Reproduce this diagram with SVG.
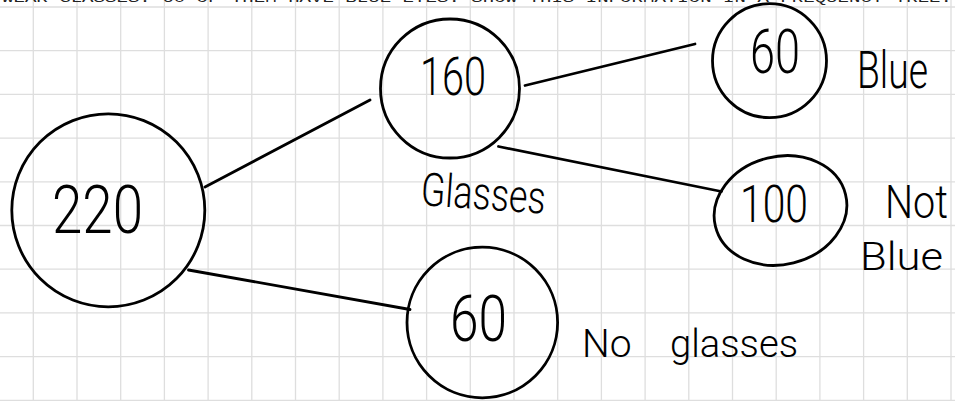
<svg xmlns="http://www.w3.org/2000/svg" width="955" height="401" viewBox="0 0 955 401">
  <style>
    .grid { stroke: #dedede; stroke-width: 1.3; fill: none; }
    .ring { fill: none; stroke: #000; stroke-width: 2.8; }
    .edge { stroke: #000; stroke-width: 2.8; stroke-linecap: round; fill: none; }
    .hand { font-family: "Roboto", "Open Sans", "Liberation Sans", sans-serif; font-weight: 300; fill: #000; }
    .head { font-family: "Liberation Mono", monospace; font-size: 13px; fill: #222; }
  </style>

  <rect width="955" height="401" fill="#fff"/>

  <!-- squared paper -->
  <path class="grid" d="M33.3 0V401 M77 0V401 M120.7 0V401 M164.4 0V401 M208.1 0V401 M251.8 0V401 M295.5 0V401 M339.2 0V401 M382.9 0V401 M426.6 0V401 M470.3 0V401 M514 0V401 M557.7 0V401 M601.4 0V401 M645.1 0V401 M688.8 0V401 M732.5 0V401 M776.2 0V401 M819.9 0V401 M863.6 0V401 M907.3 0V401 M951 0V401
    M0 7H955 M0 50.7H955 M0 94.4H955 M0 138.1H955 M0 181.8H955 M0 225.5H955 M0 269.2H955 M0 312.9H955 M0 356.6H955 M0 400.3H955"/>

  <!-- question line, cut off at the top edge -->
  <text class="head" x="2" y="1.8" textLength="950" lengthAdjust="spacingAndGlyphs">WEAR GLASSES. 60 OF THEM HAVE BLUE EYES. SHOW THIS INFORMATION IN A FREQUENCY TREE.</text>

  <!-- branches -->
  <g id="connectors">
    <line class="edge" x1="205" y1="187" x2="370" y2="100"/>
    <line class="edge" x1="188.5" y1="270" x2="410" y2="309.5"/>
    <line class="edge" x1="525" y1="85.5" x2="695" y2="44"/>
    <line class="edge" x1="498.5" y1="146.5" x2="721.5" y2="191.5"/>
  </g>

  <g id="n220">
    <circle class="ring" cx="108.3" cy="210.3" r="96.5"/>
    <text class="hand" x="52" y="233" font-size="66" textLength="91" lengthAdjust="spacingAndGlyphs">220</text>
  </g>

  <g id="n160">
    <circle class="ring" cx="450" cy="88.5" r="69.5"/>
    <text class="hand" x="420" y="95" font-size="53" textLength="66" lengthAdjust="spacingAndGlyphs">160</text>
    <text class="hand" x="420" y="205" font-size="46" textLength="125" lengthAdjust="spacingAndGlyphs" transform="rotate(4 420 205)">Glasses</text>
  </g>

  <g id="n60blue">
    <circle class="ring" cx="769.5" cy="60.7" r="57"/>
    <text class="hand" x="750" y="73" font-size="62" textLength="50" lengthAdjust="spacingAndGlyphs">60</text>
    <text class="hand" x="857" y="88" font-size="52" textLength="71" lengthAdjust="spacingAndGlyphs">Blue</text>
  </g>

  <g id="n100">
    <ellipse class="ring" cx="780.5" cy="210.5" rx="67" ry="54" transform="rotate(-14 780.5 210.5)"/>
    <text class="hand" x="740" y="222" font-size="51" textLength="68" lengthAdjust="spacingAndGlyphs">100</text>
    <text class="hand" x="885" y="218" font-size="46" textLength="63" lengthAdjust="spacingAndGlyphs">Not</text>
    <text class="hand" x="860" y="270" font-size="38" textLength="83" lengthAdjust="spacingAndGlyphs">Blue</text>
  </g>

  <g id="n60none">
    <circle class="ring" cx="482.3" cy="322.5" r="75.3"/>
    <text class="hand" x="450" y="341" font-size="64" textLength="57" lengthAdjust="spacingAndGlyphs">60</text>
    <text class="hand" x="582" y="357" font-size="39">No <tspan x="670" textLength="128" lengthAdjust="spacingAndGlyphs">glasses</tspan></text>
  </g>
</svg>
